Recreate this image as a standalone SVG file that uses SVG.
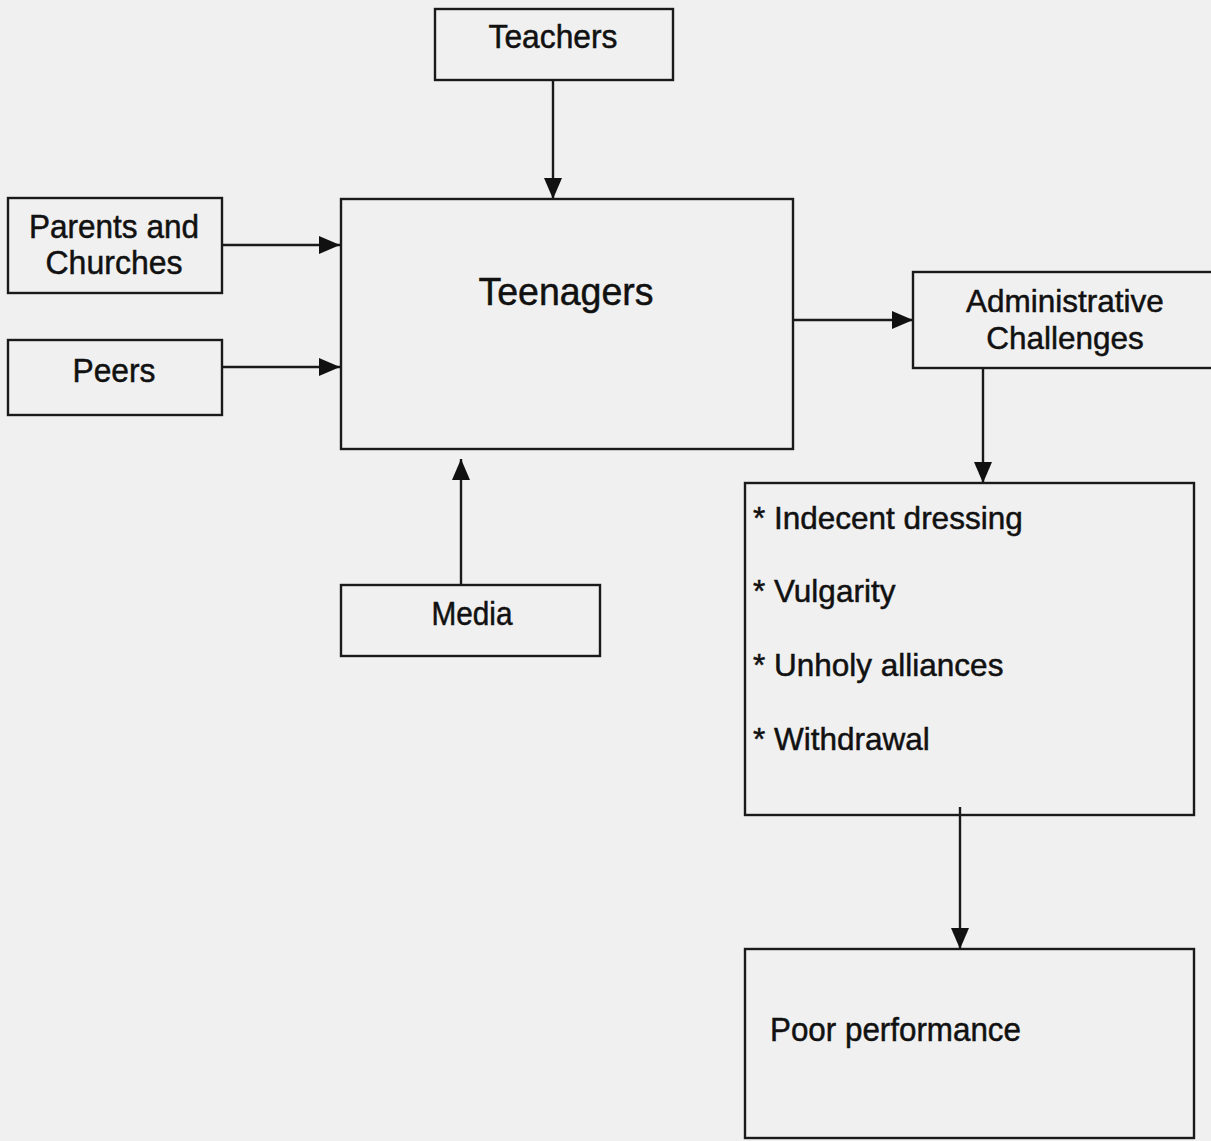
<svg xmlns="http://www.w3.org/2000/svg" width="1211" height="1141" viewBox="0 0 1211 1141">
<style>
.box{fill:none;stroke:#1a1a1a;stroke-width:2.4}
.t{font-family:"Liberation Sans",Arial,sans-serif;font-size:31.5px;fill:#111;stroke:#111;stroke-width:0.5}
.n{font-size:33px}
.c{text-anchor:middle}
.ln{stroke:#1a1a1a;stroke-width:2.4;fill:none}
</style>
<defs>
<marker id="ah" viewBox="0 0 21 18" refX="21" refY="9" markerWidth="21" markerHeight="18" markerUnits="userSpaceOnUse" orient="auto">
<path d="M0,0 L21,9 L0,18 Z" fill="#111"/>
</marker>
</defs>
<rect width="1211" height="1141" fill="#f0f0f0"/>
<g id="connectors">
<line class="ln" x1="553" y1="80" x2="553" y2="199" marker-end="url(#ah)"/>
<line class="ln" x1="222" y1="245" x2="340" y2="245" marker-end="url(#ah)"/>
<line class="ln" x1="222" y1="367" x2="340" y2="367" marker-end="url(#ah)"/>
<line class="ln" x1="461" y1="585" x2="461" y2="459" marker-end="url(#ah)"/>
<line class="ln" x1="793" y1="320" x2="913" y2="320" marker-end="url(#ah)"/>
<line class="ln" x1="983" y1="368" x2="983" y2="483" marker-end="url(#ah)"/>
<line class="ln" x1="960" y1="807" x2="960" y2="949" marker-end="url(#ah)"/>
</g>
<g id="teachers">
<rect class="box" x="435" y="9" width="238" height="71"/>
<text class="t n c" x="553" y="48" textLength="129" lengthAdjust="spacingAndGlyphs">Teachers</text>
</g>
<g id="parents">
<rect class="box" x="8" y="198" width="214" height="95"/>
<text class="t n c" x="114" y="238" textLength="170" lengthAdjust="spacingAndGlyphs">Parents and</text>
<text class="t n c" x="114" y="274" textLength="137" lengthAdjust="spacingAndGlyphs">Churches</text>
</g>
<g id="peers">
<rect class="box" x="8" y="340" width="214" height="75"/>
<text class="t n c" x="114" y="382" textLength="83" lengthAdjust="spacingAndGlyphs">Peers</text>
</g>
<g id="teenagers">
<rect class="box" x="341" y="199" width="452" height="250"/>
<text class="t c" x="566" y="305" style="font-size:38px" textLength="175" lengthAdjust="spacingAndGlyphs">Teenagers</text>
</g>
<g id="media">
<rect class="box" x="341" y="585" width="259" height="71"/>
<text class="t n c" x="472" y="625" textLength="81" lengthAdjust="spacingAndGlyphs">Media</text>
</g>
<g id="admin">
<rect class="box" x="913" y="272" width="310" height="96"/>
<text class="t c" x="1065" y="312">Administrative</text>
<text class="t c" x="1065" y="349">Challenges</text>
</g>
<g id="issues">
<rect class="box" x="745" y="483" width="449" height="332"/>
<text class="t" x="753" y="529">* Indecent dressing</text>
<text class="t" x="753" y="602">* Vulgarity</text>
<text class="t" x="753" y="676">* Unholy alliances</text>
<text class="t" x="753" y="750">* Withdrawal</text>
</g>
<g id="poor">
<rect class="box" x="745" y="949" width="449" height="189"/>
<text class="t n" x="770" y="1041" textLength="251" lengthAdjust="spacingAndGlyphs">Poor performance</text>
</g>
</svg>
